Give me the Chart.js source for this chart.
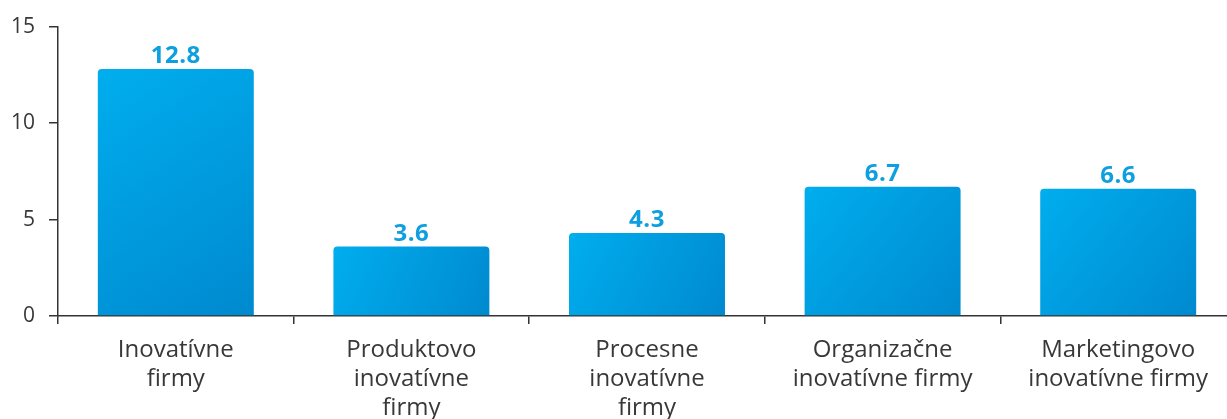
<!DOCTYPE html>
<html>
<head>
<meta charset="utf-8">
<script src="https://cdn.jsdelivr.net/npm/chart.js@4/dist/chart.umd.min.js"></script>
<style>
  html, body { margin: 0; padding: 0; background: #fff; overflow: hidden; }
  #wrap { width: 1236px; height: 419px; }
</style>
</head>
<body>
<div id="wrap"><canvas id="firmsChart"></canvas></div>
<script>
// Share of firms by type of innovation
const categories = [
  ['Inovatívne', 'firmy'],
  ['Produktovo', 'inovatívne', 'firmy'],
  ['Procesne', 'inovatívne', 'firmy'],
  ['Organizačne', 'inovatívne firmy'],
  ['Marketingovo', 'inovatívne firmy']
];
const values = [12.8, 3.6, 4.3, 6.7, 6.6];
const yTicks = [0, 5, 10, 15];

const labelFont = '"Open Sans", "Noto Sans", sans-serif';

// each bar gets its own light-to-dark gradient
function barGradient(context) {
  const chart = context.chart;
  const area = chart.chartArea;
  if (!area) return '#00a3e6';
  const xs = chart.scales.x, ys = chart.scales.y;
  const x = xs.getPixelForValue(context.dataIndex);
  const top = ys.getPixelForValue(values[context.dataIndex]);
  const half = 80;
  const g = chart.ctx.createLinearGradient(x - half, top, x + half, area.bottom);
  g.addColorStop(0, '#00aeee');
  g.addColorStop(1, '#0089cf');
  return g;
}

// value labels above bars; afterwards widen the letter spacing
// for the category labels, which are drawn on a later layer (z: 1)
const valueLabels = {
  id: 'valueLabels',
  afterDatasetsDraw(chart) {
    const ctx = chart.ctx;
    const meta = chart.getDatasetMeta(0);
    ctx.save();
    ctx.letterSpacing = '0.5px';
    ctx.fillStyle = '#0d9fe0';
    ctx.font = 'bold 24px ' + labelFont;
    ctx.textAlign = 'center';
    ctx.textBaseline = 'alphabetic';
    meta.data.forEach((bar, i) => {
      ctx.fillText(values[i].toFixed(1), bar.x, bar.y - 6);
    });
    ctx.restore();
    ctx.letterSpacing = '1px';
  },
  afterDraw(chart) {
    chart.ctx.letterSpacing = '0px';
  }
};

new Chart(document.getElementById('firmsChart'), {
  type: 'bar',
  data: {
    labels: categories,
    datasets: [{
      data: values,
      backgroundColor: barGradient,
      borderRadius: { topLeft: 4, topRight: 4 },
      borderSkipped: 'start',
      categoryPercentage: 1,
      barPercentage: 0.662
    }]
  },
  options: {
    responsive: true,
    maintainAspectRatio: false,
    animation: false,
    layout: { padding: { top: 24, right: 0, bottom: 0, left: 0 } },
    plugins: {
      legend: { display: false },
      tooltip: { enabled: false }
    },
    scales: {
      x: {
        z: 1,
        grid: {
          offset: true,
          drawOnChartArea: false,
          drawTicks: true,
          tickLength: 8,
          color: '#333',
          lineWidth: 1.5
        },
        border: { display: true, color: '#333', width: 1.5 },
        ticks: {
          color: '#383838',
          padding: 12,
          maxRotation: 0,
          autoSkip: false,
          font: { family: labelFont, size: 24, weight: 400, lineHeight: 1.21 }
        },
        afterFit(scale) { scale.height = 103; }
      },
      y: {
        min: 0,
        max: 15,
        afterBuildTicks(scale) { scale.ticks = yTicks.map(v => ({ value: v })); },
        grid: {
          drawOnChartArea: false,
          drawTicks: true,
          tickLength: 9,
          color: '#333',
          lineWidth: 1.5
        },
        border: { display: true, color: '#333', width: 1.5 },
        ticks: {
          color: '#383838',
          padding: 14,
          font: { family: labelFont, size: 21, weight: 400 }
        },
        afterFit(scale) { scale.width = 58; }
      }
    }
  },
  plugins: [valueLabels]
});
</script>
</body>
</html>
